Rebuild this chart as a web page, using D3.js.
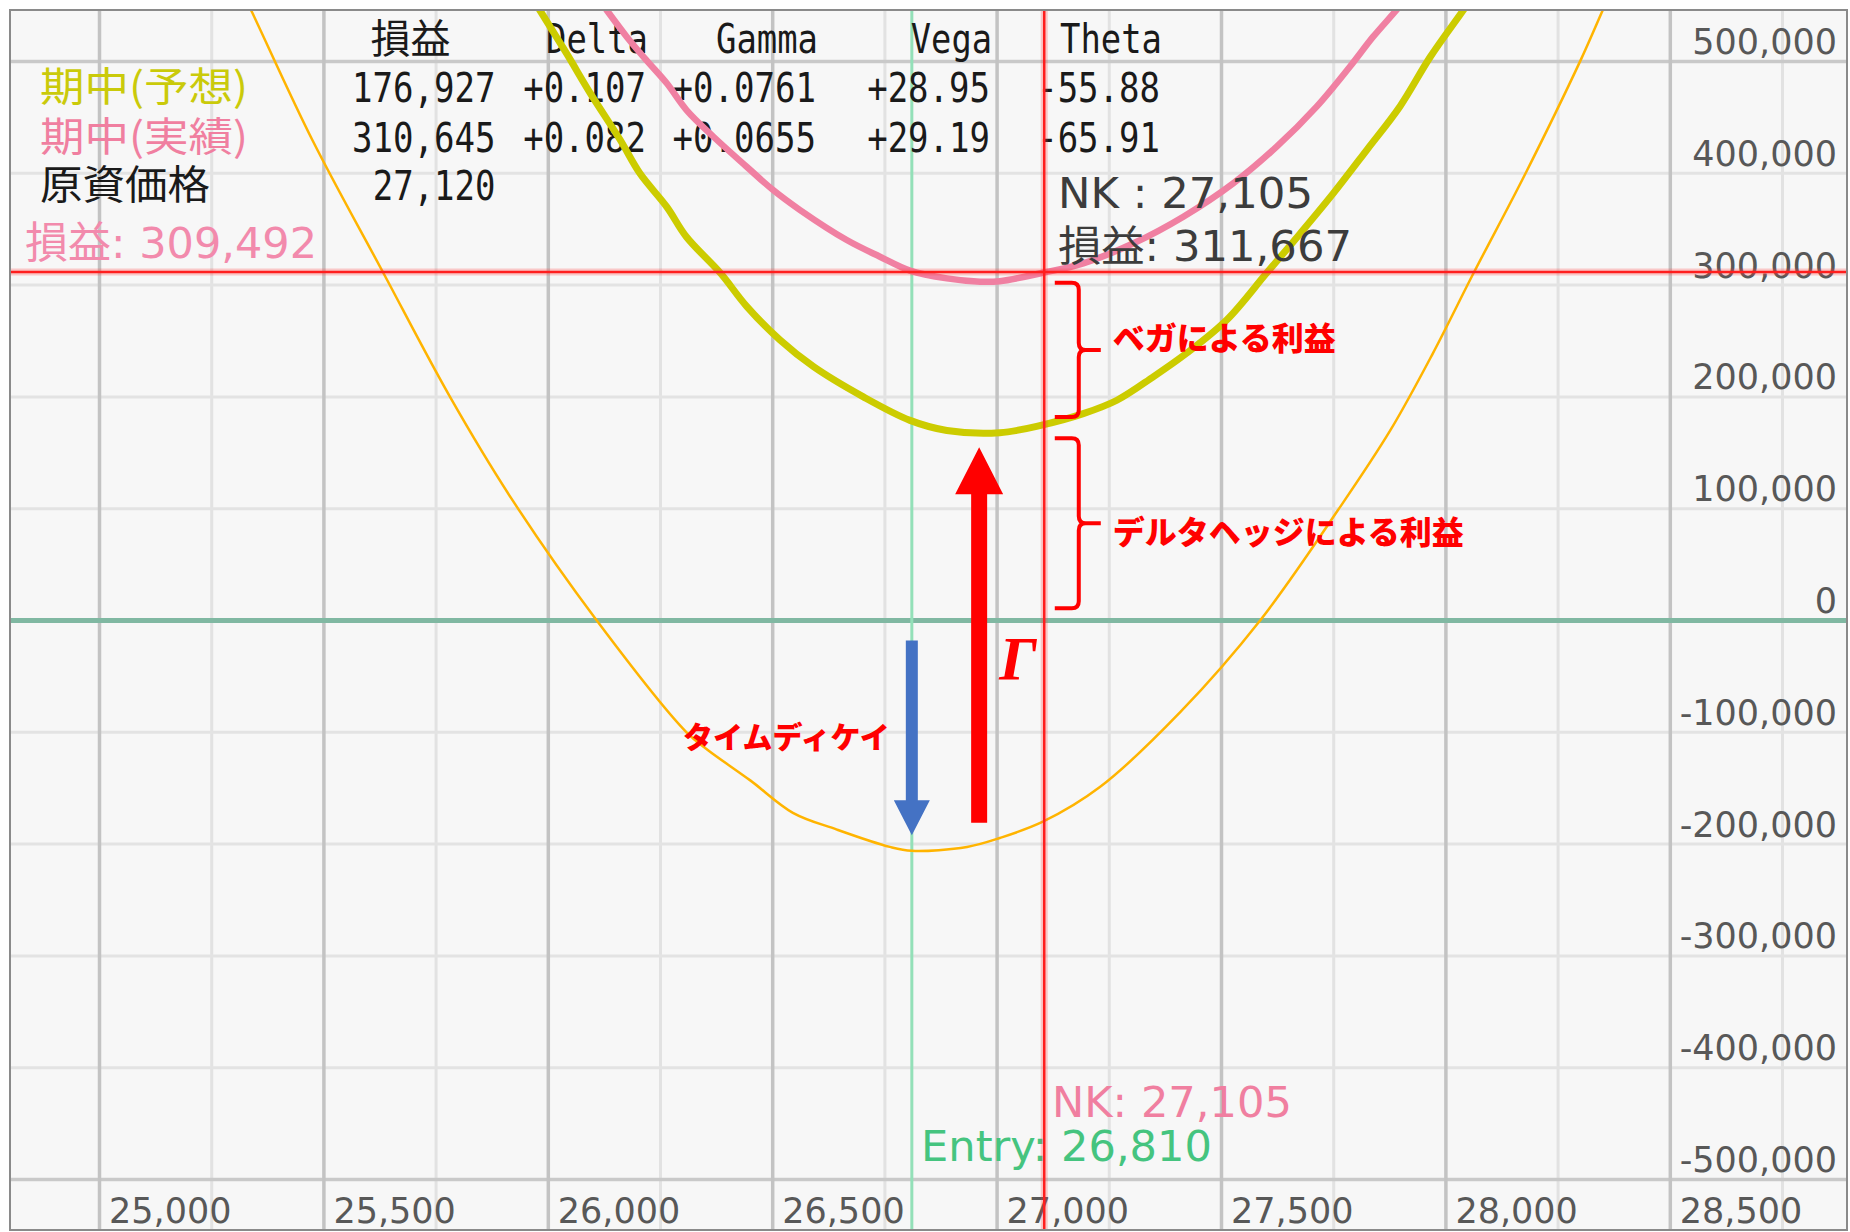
<!DOCTYPE html>
<html><head><meta charset="utf-8">
<script src="https://cdn.jsdelivr.net/npm/d3@7"></script>
<style>body{margin:0;background:#fff}svg{display:block}</style>
</head><body>
<svg id="c" width="1850" height="1232"></svg>
<script>
// ---------- data ----------
const xTicks = [25000, 25500, 26000, 26500, 27000, 27500, 28000, 28500];
const xTickLabels = ["25,000", "25,500", "26,000", "26,500", "27,000", "27,500", "28,000", "28,500"];
const xMinorTicks = [25250, 25750, 26250, 26750, 27250, 27750, 28250, 28750];
const yTicks = [500000, 400000, 300000, 200000, 100000, 0, -100000, -200000, -300000, -400000, -500000];
const yTickLabels = ["500,000", "400,000", "300,000", "200,000", "100,000", "0", "-100,000", "-200,000", "-300,000", "-400,000", "-500,000"];

// expiry P&L (thin orange)
const orangePrice = [25305, 25340, 25474, 25629, 25781, 25918, 26108, 26308, 26356, 26450, 26545, 26643, 26761, 26810, 26933, 27006, 27102, 27229, 27408, 27586, 27760, 27876, 27971, 28062, 28175, 28300, 28354, 28379];
const orangePnl = [573000, 544000, 430000, 313500, 200000, 109000, 0, -100000, -116000, -143000, -172000, -187000, -202500, -206000, -202500, -194500, -180000, -149000, -82000, 0, 99000, 170000, 239000, 311000, 398000, 501000, 550000, 572000];

// 期中(予想) (yellow)
const yellowPrice = [25954, 25981, 26041, 26093, 26160, 26204, 26264, 26308, 26383, 26442, 26516, 26591, 26702, 26806, 26888, 27006, 27102, 27192, 27267, 27348, 27422, 27512, 27601, 27675, 27749, 27824, 27898, 27965, 28039, 28070];
const yellowPnl = [564000, 546000, 507000, 472000, 430000, 400000, 370000, 343000, 311000, 281000, 251000, 227000, 200000, 179000, 170000, 168000, 175000, 185000, 197000, 218000, 239000, 269000, 311000, 346000, 382000, 421000, 460000, 504000, 546000, 564000];

// 期中(実績) (pink)
const pinkPrice = [26096, 26130, 26175, 26219, 26264, 26308, 26368, 26442, 26501, 26561, 26665, 26739, 26806, 26888, 26962, 27006, 27102, 27192, 27304, 27415, 27526, 27623, 27712, 27786, 27838, 27890, 27929];
const pinkPnl = [565000, 546000, 522000, 501000, 480500, 456600, 432700, 405900, 385000, 367100, 340300, 325400, 313000, 306000, 303000, 303500, 311000, 319500, 337400, 361200, 391000, 423800, 459600, 495300, 522200, 546100, 565000];

// table
const tableHeaders = ["損益", "Delta", "Gamma", "Vega", "Theta"];
const rowLabels = ["期中(予想)", "期中(実績)", "原資価格"];
const rowForecast = ["176,927", "+0.107", "+0.0761", "+28.95", "-55.88"];
const rowActual = ["310,645", "+0.082", "+0.0655", "+29.19", "-65.91"];
const rowUnderlying = ["27,120"];

// markers
const nkPrice = 27105;
const nkPnl = 311667;
const entryPrice = 26810;
const leftPnlLabel = "損益: 309,492";
const nkLabels = ["NK : 27,105", "損益: 311,667"];
const nkBottomLabel = "NK: 27,105";
const entryLabel = "Entry: 26,810";

// annotations
const braceTop = [302000, 163000];
const braceBottom = [182000, 11000];
const braceLabelPnl = [254500, 81000];
const braceLabels = ["ベガによる利益", "デルタヘッジによる利益"];
const bracePrice = 27182;
const thetaArrow = {price: 26810, from: -18000, to: -192000};
const gammaArrow = {price: 26960, from: -181000, to: 155000};
const thetaLabel = "タイムディケイ";
const gammaLabel = "Γ";

// ---------- drawing ----------
const svg = d3.select("#c");
const F = {l: 10, t: 10, r: 1847, b: 1230};
const x = d3.scaleLinear().domain([25000, 28500]).range([99.5, 1670.3]);
const y = d3.scaleLinear().domain([-500000, 500000]).range([1179.5, 61.5]);

svg.append("rect").attr("width", 1850).attr("height", 1232).attr("fill", "#fff");
svg.append("defs").append("clipPath").attr("id", "clip")
  .append("rect").attr("x", F.l).attr("y", F.t).attr("width", F.r - F.l).attr("height", F.b - F.t);
svg.append("rect").attr("x", F.l).attr("y", F.t).attr("width", F.r - F.l).attr("height", F.b - F.t)
  .attr("fill", "#f7f7f7");

const grid = svg.append("g").attr("clip-path", "url(#clip)");
grid.selectAll(".vmin").data(xMinorTicks).join("line")
  .attr("x1", d => x(d)).attr("x2", d => x(d)).attr("y1", F.t).attr("y2", F.b)
  .attr("stroke", "#e2e2e2").attr("stroke-width", 3);
grid.selectAll(".hl").data(yTicks).join("line")
  .attr("x1", F.l).attr("x2", F.r).attr("y1", d => y(d)).attr("y2", d => y(d))
  .attr("stroke", d => Math.abs(d) === 500000 ? "#c9c9c9" : "#e3e3e3")
  .attr("stroke-width", d => Math.abs(d) === 500000 ? 3.5 : 3);
grid.selectAll(".vmaj").data(xTicks).join("line")
  .attr("x1", d => x(d)).attr("x2", d => x(d)).attr("y1", F.t).attr("y2", F.b)
  .attr("stroke", "#c3c3c3").attr("stroke-width", 3.5);
// zero line
grid.append("line").attr("x1", F.l).attr("x2", F.r).attr("y1", y(0)).attr("y2", y(0))
  .attr("stroke", "#80b8a2").attr("stroke-width", 5);
// entry line
grid.append("line").attr("x1", x(entryPrice)).attr("x2", x(entryPrice)).attr("y1", F.t).attr("y2", F.b)
  .attr("stroke", "#93e0b8").attr("stroke-width", 3);

// axes
const xAxis = d3.axisBottom(x).tickValues(xTicks).tickFormat((d, i) => xTickLabels[i]).tickSize(0);
const gx = svg.append("g").attr("transform", "translate(0,1223)").call(xAxis);
gx.select(".domain").remove();
gx.attr("font-family", "DejaVu Sans").attr("font-size", 35);
gx.selectAll("text").attr("y", 0).attr("dy", null).attr("x", 9).attr("text-anchor", "start").attr("fill", "#585858");

const yAxis = d3.axisLeft(y).tickValues(yTicks).tickFormat((d, i) => yTickLabels[i]).tickSize(0);
const gy = svg.append("g").attr("transform", "translate(1837,0)").call(yAxis);
gy.select(".domain").remove();
gy.attr("font-family", "DejaVu Sans").attr("font-size", 35);
gy.selectAll("text").attr("x", 0).attr("dy", null).attr("y", -8).attr("text-anchor", "end").attr("fill", "#585858");

// table text
const tbl = svg.append("g");
const colRight = [495.5, 646, 816, 990, 1160];
const CW = 20.8;
function mono(str, xr, base, color) {
  const len = str.length * CW - 2;
  tbl.append("text").attr("x", xr - len).attr("y", base)
    .attr("textLength", len).attr("lengthAdjust", "spacingAndGlyphs")
    .attr("font-family", "DejaVu Sans Mono").attr("font-size", 41).attr("fill", color || "#1a1a1a").text(str);
}
tbl.append("text").attr("x", 370.5).attr("y", 53).attr("textLength", 80).attr("lengthAdjust", "spacingAndGlyphs")
  .attr("font-family", "Noto Sans CJK JP").attr("font-size", 40).attr("fill", "#1a1a1a").text(tableHeaders[0]);
tableHeaders.slice(1).forEach((h, i) => mono(h, colRight[i + 1] + 2, 53));
const rowBase = [101.7, 151.7, 200];
const rowColors = ["#caca0a", "#f07fa0", "#1a1a1a"];
const rowLabelLen = [208, 208, 170];
rowLabels.forEach((t, i) => {
  tbl.append("text").attr("x", 40).attr("y", rowBase[i] - 1).attr("textLength", rowLabelLen[i]).attr("lengthAdjust", "spacingAndGlyphs")
    .attr("font-family", "Noto Sans CJK JP").attr("font-size", 40).attr("fill", rowColors[i]).text(t);
});
[rowForecast, rowActual, rowUnderlying].forEach((row, r) => {
  row.forEach((v, c) => mono(v, colRight[c], rowBase[r]));
});

function prop(g, str, x0, base, len, size, color) {
  g.append("text").attr("x", x0).attr("y", base).attr("textLength", len).attr("lengthAdjust", "spacingAndGlyphs")
    .attr("font-family", "DejaVu Sans, Noto Sans CJK JP").attr("font-size", size).attr("fill", color).text(str);
}
prop(tbl, leftPnlLabel, 25, 258, 292, 43, "#f28aac");
prop(tbl, nkBottomLabel, 1052, 1117, 240, 42, "#f07fa0");
prop(tbl, entryLabel, 921, 1161, 291, 42, "#45c47f");

// curves
const line = d3.line().x(d => x(d[0])).y(d => y(d[1])).curve(d3.curveCatmullRom.alpha(0.5));
const curves = svg.append("g").attr("clip-path", "url(#clip)").attr("fill", "none")
  .attr("stroke-linejoin", "round").attr("stroke-linecap", "round");
curves.append("path").datum(d3.zip(orangePrice, orangePnl)).attr("d", line)
  .attr("stroke", "#ffb400").attr("stroke-width", 2.5);
curves.append("path").datum(d3.zip(yellowPrice, yellowPnl)).attr("d", line)
  .attr("stroke", "#cccc00").attr("stroke-width", 7);
curves.append("path").datum(d3.zip(pinkPrice, pinkPnl)).attr("d", line)
  .attr("stroke", "#f080a2").attr("stroke-width", 6.5);

// crosshair labels
const labG = svg.append("g");
prop(labG, nkLabels[0], 1058, 208, 255, 42, "#3c3c3c");
prop(labG, nkLabels[1], 1058, 261, 294, 42, "#3c3c3c");

// red crosshair
const cross = svg.append("g").attr("clip-path", "url(#clip)");
[[7, "rgba(255,60,60,0.25)"], [2.5, "#ff1e1e"]].forEach(([w, c]) => {
  cross.append("line").attr("x1", F.l).attr("x2", F.r).attr("y1", y(nkPnl)).attr("y2", y(nkPnl))
    .attr("stroke", c).attr("stroke-width", w);
  cross.append("line").attr("x1", x(nkPrice)).attr("x2", x(nkPrice)).attr("y1", F.t).attr("y2", F.b)
    .attr("stroke", c).attr("stroke-width", w);
});

// frame
svg.append("rect").attr("x", F.l).attr("y", F.t).attr("width", F.r - F.l).attr("height", F.b - F.t)
  .attr("fill", "none").attr("stroke", "#8a8a8a").attr("stroke-width", 2);

// annotations
const ann = svg.append("g");
braceTop.forEach((tv, i) => {
  const xs = x(bracePrice), yt = y(tv), yb = y(braceBottom[i]), ym = (yt + yb) / 2;
  const xl = xs - 24, xt = xs + 22, r = 7;
  const p = `M${xl},${yt} L${xs - r},${yt} Q${xs},${yt} ${xs},${yt + r} L${xs},${ym - r} Q${xs},${ym} ${xs + r},${ym} L${xt},${ym}` +
    ` M${xs + r},${ym} Q${xs},${ym} ${xs},${ym + r} L${xs},${yb - r} Q${xs},${yb} ${xs - r},${yb} L${xl},${yb}`;
  ann.append("path").attr("d", p).attr("fill", "none").attr("stroke", "#ff0000").attr("stroke-width", 4);
  ann.append("text").attr("x", xs + 34).attr("y", y(braceLabelPnl[i])).attr("dominant-baseline", "central")
    .attr("font-family", "Noto Sans CJK JP").attr("font-weight", 900).attr("font-size", 32)
    .attr("fill", "#ff0000").text(braceLabels[i]);
});

function arrow(a, color, shaft, headW, headL) {
  const ax = x(a.price), y0 = y(a.from), y1 = y(a.to);
  const dir = y1 > y0 ? 1 : -1;
  const yb = y1 - dir * headL;
  const p = `M${ax - shaft / 2},${y0} L${ax + shaft / 2},${y0} L${ax + shaft / 2},${yb} L${ax + headW / 2},${yb} L${ax},${y1} L${ax - headW / 2},${yb} L${ax - shaft / 2},${yb} Z`;
  ann.append("path").attr("d", p).attr("fill", color);
}
arrow(thetaArrow, "#4472c4", 12, 36, 35);
arrow(gammaArrow, "#ff0000", 16, 48, 47);

ann.append("text").attr("x", x(thetaArrow.price) - 22).attr("y", (y(thetaArrow.from) + y(thetaArrow.to)) / 2 - 3)
  .attr("dominant-baseline", "central").attr("text-anchor", "end")
  .attr("font-family", "Noto Sans CJK JP").attr("font-weight", 900).attr("font-size", 30)
  .attr("fill", "#ff0000").text(thetaLabel);
ann.append("text").attr("x", x(gammaArrow.price) + 20).attr("y", y(0) + 58)
  .attr("font-family", "Liberation Serif, DejaVu Serif").attr("font-style", "italic").attr("font-weight", "bold")
  .attr("font-size", 62).attr("fill", "#ff0000").text(gammaLabel);
</script>
</body></html>
